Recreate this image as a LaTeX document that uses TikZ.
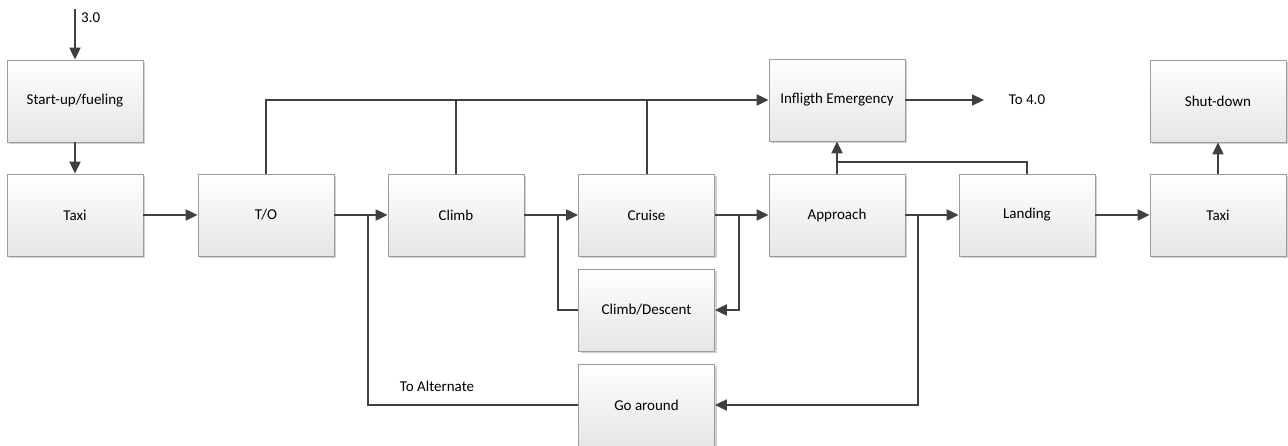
\documentclass[tikz,border=0pt]{standalone}
\usepackage{fontspec}
\setmainfont{Carlito}
\usetikzlibrary{arrows.meta,shadows,calc}
\definecolor{linec}{HTML}{404040}
\definecolor{boxline}{HTML}{9C9C9C}
\begin{document}
\begin{tikzpicture}[x=1pt,y=-1pt,
  box/.style={draw=boxline, line width=0.8pt, top color=white, bottom color=black!10,
    minimum width=136pt, minimum height=82pt, inner sep=0pt, font=\fontsize{15}{18}\selectfont,
    drop shadow={shadow xshift=2pt, shadow yshift=-2pt, opacity=0.18, fill=black}},
  lbl/.style={font=\fontsize{15}{18}\selectfont, inner sep=0pt},
  conn/.style={draw=linec, line width=2pt},
  arr/.style={conn, -{Triangle[length=12pt,width=11pt]}}]
\useasboundingbox (0,0) rectangle (1288,445);
\node[box] (start) at (75,101) {Start-up/fueling};
\node[box] (taxi1) at (75,215) {Taxi};
\node[box] (to) at (266,215) {T/O};
\node[box] (climb) at (456,215) {Climb};
\node[box] (cruise) at (646.5,215) {Cruise};
\node[box] (appr) at (837,215) {Approach};
\node[box] (land) at (1027,215) {Landing};
\node[box] (taxi2) at (1218,215) {Taxi};
\node[box] (ie) at (837,100) {Infligth Emergency};
\node[box] (shut) at (1218,101) {Shut-down};
\node[box] (cd) at (646.5,310) {Climb/Descent};
\node[box] (ga) at (646.5,405) {Go around};
\node[lbl, anchor=west] (l30) at (81,18) {3.0};
\node[lbl] (to4) at (1027,100) {To 4.0};
\node[lbl] (alt) at (437,386) {To Alternate};
\coordinate (in) at (75,9);
\coordinate (out4) at (984,100);
\coordinate (j1) at (837,162);
\coordinate (j2) at (739,215);
\coordinate (j3) at (558,215);
\coordinate (j4) at (918,215);
\coordinate (j5) at (368,215);
\draw[arr] (in) -- (start.north);
\draw[arr] (start) -- (taxi1);
\draw[arr] (taxi1) -- (to);
\draw[arr] (to) -- (climb);
\draw[arr] (climb) -- (cruise);
\draw[arr] (cruise) -- (appr);
\draw[arr] (appr) -- (land);
\draw[arr] (land) -- (taxi2);
\draw[arr] (taxi2) -- (shut);
\draw[arr] (to.north) |- (ie.west);
\draw[conn] (climb.north) -- (climb.north |- ie.west);
\draw[conn] (cruise.north) -- (cruise.north |- ie.west);
\draw[arr] (ie.east) -- (out4);
\draw[arr] (appr.north) -- (ie.south);
\draw[conn] (land.north) |- (j1);
\draw[arr] (j2) |- (cd.east);
\draw[conn] (j3) |- (cd.west);
\draw[arr] (j4) |- (ga.east);
\draw[conn] (ga.west) -| (j5);
\end{tikzpicture}
\end{document}
